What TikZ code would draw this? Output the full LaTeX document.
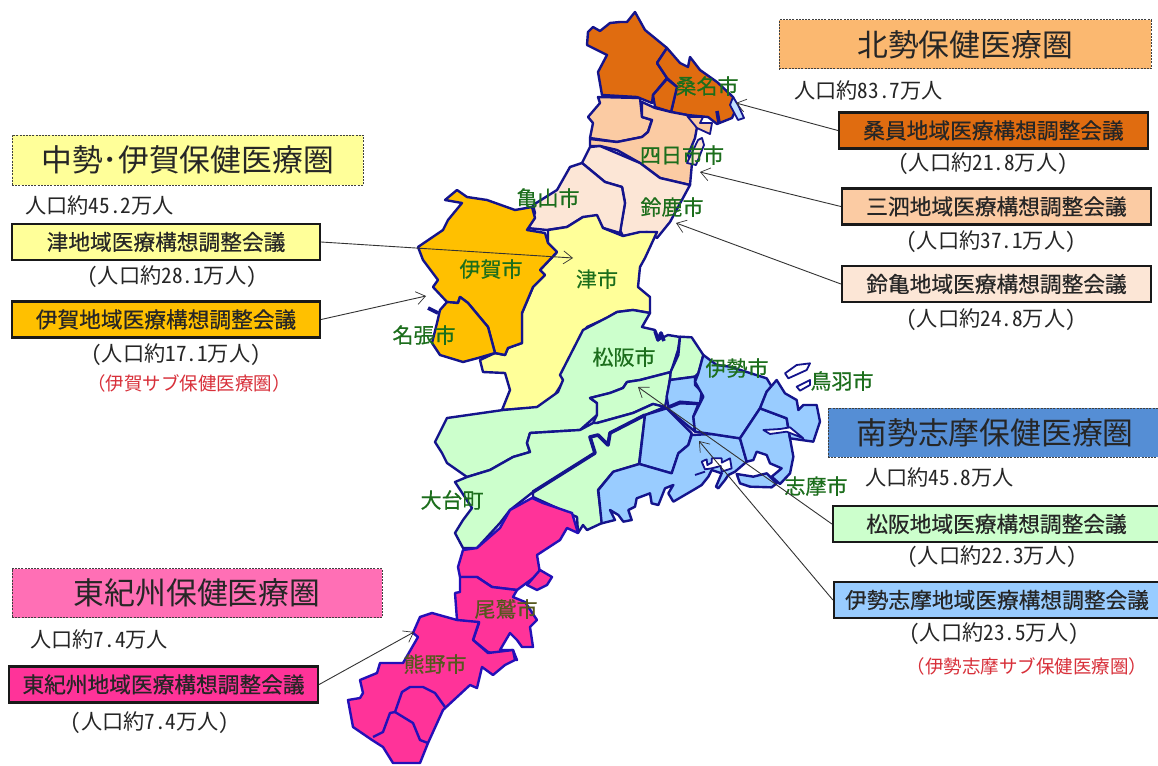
\documentclass[tikz,border=0pt]{standalone}
\usepackage{fontspec}
\usetikzlibrary{arrows.meta}
\newfontfamily\cjk{Noto Sans CJK JP}
\newfontfamily\cjkn[RawFeature=+hwid]{Noto Sans CJK JP}
\newfontfamily\cjkb[FakeBold=0.5]{Noto Sans CJK JP}
\definecolor{maplinec}{HTML}{14148C}
\definecolor{pinkline}{HTML}{2410B8}
\definecolor{darkor}{HTML}{E06C10}
\definecolor{lightor}{HTML}{FBCBA3}
\definecolor{palepk}{HTML}{FCE6D6}
\definecolor{amber}{HTML}{FFC000}
\definecolor{paley}{HTML}{FFFF99}
\definecolor{paleg}{HTML}{CCFFCC}
\definecolor{paleb}{HTML}{99CCFF}
\definecolor{hotp}{HTML}{FF3399}
\definecolor{titleor}{HTML}{FBB870}
\definecolor{titleb}{HTML}{558ED5}
\definecolor{titlep}{HTML}{FF6FB5}
\definecolor{cityg}{HTML}{1C6E1C}
\definecolor{cityo}{HTML}{55581E}
\definecolor{subred}{HTML}{D8303A}
\tikzset{
 region/.style={draw=maplinec,line width=2.4pt,line join=round},
 pregion/.style={draw=pinkline,line width=2.4pt,line join=round},
 thickcoast/.style={draw=maplinec,line width=3.6pt,line join=round},
 isle/.style={draw=maplinec,line width=1.8pt,line join=round,fill=white},
 title/.style={draw=black!75,dash pattern=on 2pt off 1.2pt,line width=1pt,minimum height=49pt,inner sep=0pt,font=\cjk\fontsize{30.8}{34}\selectfont,text=black!85},
 council/.style={draw=black!90,line width=2.2pt,minimum height=36pt,inner sep=0pt,font=\cjkb\fontsize{21.7}{24}\selectfont,text=black!85},
 pop/.style={inner sep=0pt,font=\cjkn\fontsize{21.2}{24}\selectfont,text=black!85},
 sub/.style={inner sep=0pt,font=\cjk\fontsize{18.5}{20}\selectfont,text=subred},
 city/.style={inner sep=0pt,font=\cjkb\fontsize{21}{24}\selectfont,text=cityg},
 cityp/.style={city,text=cityo},
 link/.style={draw=black!80,line width=.9pt,-{Straight Barb[length=9pt,width=13pt,line width=.7pt]}}
}
\begin{document}
\begin{tikzpicture}[x=1pt,y=-1pt]
\useasboundingbox (0,0) rectangle (1158,765);
\clip (0,0) rectangle (1158,765);
\fill[white] (0,0) rectangle (1158,765);
% ---- Hokusei
\filldraw[region,fill=darkor] (635,12)--(645,30)--(667,48)--(657,63)--(667,78)--(653,95)--(652,103)--(637,97)--(602,95)--(598,72)--(607,55)--(587,45)--(588,32)--(593,27)--(600,31)--(610,23)--(620,22)--(627,22)--cycle;
\filldraw[region,fill=darkor] (667,48)--(680,63)--(688,67)--(690,57)--(700,70)--(717,82)--(733,97)--(737,107)--(732,118)--(717,124)--(708,117)--(687,115)--(671,112)--(677,87)--(667,78)--(657,63)--cycle;
\filldraw[region,fill=darkor] (667,79)--(653,95)--(655,107)--(671,112)--(677,87)--cycle;
\draw[thickcoast] (717,111)--(719,123);
\filldraw[isle,fill=paleb!60] (733,97)--(738,105)--(744,118)--(738,120)--(730,105)--cycle;
\filldraw[region,fill=lightor] (598,97)--(640,98)--(642,117)--(652,120)--(648,132)--(642,137)--(617,142)--(590,138)--(593,123)--(588,117)--(600,103)--cycle;
\filldraw[region,fill=lightor] (642,102)--(655,108)--(671,112)--(687,115)--(697,127)--(695,138)--(688,155)--(692,163)--(690,185)--(660,178)--(640,163)--(617,150)--(600,146)--(590,146)--(590,139)--(617,142)--(642,137)--(648,132)--(652,120)--(642,117)--cycle;
\filldraw[isle,fill=lightor] (688,117)--(703,117)--(700,123)--(712,123)--(710,134)--(697,128)--cycle;
\filldraw[isle,fill=palepk] (698,140)--(702,138)--(704,145)--(696,165)--(687,163)--cycle;
% suzuka, kameyama
\filldraw[region,fill=palepk] (590,147)--(600,146)--(640,163)--(660,178)--(690,185)--(670,222)--(657,238)--(647,232)--(623,236)--(620,230)--(625,203)--(622,187)--(605,182)--(582,163)--cycle;
\filldraw[region,fill=palepk] (582,163)--(605,182)--(622,187)--(625,203)--(620,233)--(600,227)--(595,217)--(583,217)--(567,227)--(547,230)--(527,228)--(535,213)--(533,205)--(557,190)--(570,167)--cycle;
% ---- Tsu
\filldraw[region,fill=paley] (548,230)--(567,227)--(583,217)--(597,215)--(603,228)--(623,236)--(640,232)--(657,232)--(645,258)--(640,267)--(638,287)--(650,297)--(650,313)--(633,310)--(617,312)--(607,318)--(587,327)--(563,373)--(563,382)--(547,407)--(502,410)--(510,390)--(505,373)--(483,372)--(480,360)--(495,353)--(505,355)--(508,348)--(522,343)--(522,313)--(533,287)--(545,275)--(540,270)--(557,252)--(548,243)--cycle;
% ---- Iga
\filldraw[region,fill=amber] (418,247)--(443,230)--(448,220)--(462,203)--(445,200)--(457,190)--(467,197)--(487,200)--(515,210)--(532,207)--(535,218)--(527,230)--(545,233)--(548,243)--(557,252)--(540,270)--(545,275)--(533,287)--(522,313)--(522,343)--(508,348)--(505,355)--(495,353)--(488,327)--(468,303)--(460,297)--(458,303)--(447,302)--(433,287)--(438,280)--(423,260)--cycle;
\filldraw[region,fill=amber] (447,302)--(440,310)--(437,323)--(432,343)--(440,355)--(463,362)--(478,358)--(495,353)--(488,327)--(468,303)--(460,297)--(458,303)--cycle;
\draw[thickcoast] (428,308)--(438,313);
% ---- Matsusaka group
\filldraw[region,fill=paleg] (447,418)--(503,410)--(537,407)--(558,392)--(563,380)--(560,375)--(583,330)--(608,317)--(617,312)--(633,310)--(650,313)--(642,327)--(655,330)--(658,340)--(668,335)--(680,337)--(678,350)--(671,372)--(640,380)--(627,382)--(623,388)--(610,393)--(590,398)--(597,403)--(597,415)--(580,430)--(530,433)--(527,443)--(530,452)--(513,457)--(490,470)--(467,477)--(447,463)--(442,453)--(435,442)--cycle;
\filldraw[region,fill=paleg] (590,398)--(610,393)--(623,388)--(627,382)--(640,380)--(671,372)--(667,397)--(665,407)--(653,404)--(633,413)--(597,423)--(593,423)--(597,415)--(597,403)--cycle;
\filldraw[region,fill=paleg] (467,477)--(490,470)--(513,457)--(530,452)--(527,443)--(530,433)--(580,430)--(593,423)--(597,423)--(633,413)--(653,404)--(665,407)--(645,415)--(610,433)--(608,445)--(598,435)--(590,437)--(595,453)--(560,475)--(533,492)--(510,510)--(500,523)--(477,548)--(463,548)--(455,533)--(463,520)--(472,508)--(455,482)--cycle;
\filldraw[region,fill=paleg] (533,492)--(560,475)--(595,453)--(590,437)--(598,435)--(608,445)--(610,433)--(645,415)--(639,464)--(613,472)--(598,490)--(602,523)--(587,530)--(583,525)--(578,533)--(577,517)--(533,497)--cycle;
\draw[thickcoast] (533,492)--(560,475)--(595,453)--(590,437)--(598,435)--(608,445)--(610,433)--(645,415);
\draw[thickcoast] (655,331)--(658,340)--(661,333)--(664,341);
% ---- Nansei-Shima, drawn in the crop's thirds of a pixel
\begin{scope}[shift={(590,330)},x=.33333pt,y=-.33333pt]
\filldraw[region,fill=paleg] (270,20)--(305,22)--(340,75)--(325,130)--(315,140)--(240,150)--(242,125)--(265,75)--cycle;
\filldraw[region,fill=paleb] (240,150)--(315,140)--(315,165)--(335,185)--(330,220)--(270,215)--(235,230)--(230,200)--cycle;
\filldraw[region,fill=paleb] (240,232)--(270,220)--(325,222)--(310,260)--(315,305)--(230,235)--cycle;
\filldraw[region,fill=paleb] (165,255)--(230,235)--(305,310)--(295,345)--(265,370)--(245,430)--(148,402)--cycle;
\filldraw[region,fill=paleb] (148,402)--(245,430)--(265,370)--(295,345)--(305,315)--(365,312)--(450,325)--(470,395)--(435,425)--(415,435)--(405,450)--(385,475)--(378,470)--(395,430)--(365,420)--(355,440)--(335,465)--(310,480)--(250,515)--(235,490)--(250,465)--(225,475)--(205,525)--(185,520)--(180,490)--(140,505)--(135,530)--(115,540)--(125,570)--(100,575)--(85,555)--(60,540)--(75,570)--(35,580)--(25,480)--(70,425)--cycle;
\filldraw[isle] (335,395)--(350,388)--(352,405)--(365,398)--(365,385)--(395,385)--(395,398)--(420,385)--(425,415)--(395,425)--(392,408)--(365,415)--(345,418)--cycle;
\draw[thickcoast,line width=1.8pt] (315,435)--(345,425);
\filldraw[region,fill=paleb] (325,130)--(340,75)--(380,105)--(420,110)--(530,145)--(545,170)--(530,185)--(510,235)--(450,325)--(365,312)--(315,305)--(310,260)--(340,200)--(315,155)--cycle;
\filldraw[region,fill=paleb] (510,235)--(590,265)--(600,325)--(610,380)--(600,430)--(570,462)--(545,440)--(575,415)--(540,400)--(530,375)--(500,365)--(490,390)--(470,395)--(450,325)--cycle;
\filldraw[region,fill=paleb] (440,432)--(490,440)--(530,430)--(560,460)--(545,472)--(480,470)--(450,460)--cycle;
\filldraw[region,fill=paleb] (510,235)--(530,185)--(560,150)--(585,190)--(620,210)--(625,240)--(640,225)--(680,225)--(690,275)--(670,335)--(600,325)--(590,265)--cycle;
\filldraw[isle] (520,300)--(570,297)--(600,292)--(640,325)--(590,305)--(540,312)--cycle;
\filldraw[isle] (585,130)--(620,105)--(660,100)--(650,120)--(595,145)--cycle;
\filldraw[isle] (620,170)--(660,150)--(660,165)--(630,182)--cycle;
\end{scope}
% ---- Higashi-Kishu
\filldraw[pregion,fill=hotp] (532,498)--(543,503)--(572,513)--(578,533)--(567,528)--(560,540)--(537,555)--(540,573)--(517,590)--(492,587)--(477,577)--(460,577)--(458,567)--(463,550)--(477,548)--(500,528)--(510,510)--cycle;
\filldraw[pregion,fill=hotp] (540,570)--(552,577)--(547,585)--(537,590)--(527,585)--cycle;
\filldraw[pregion,fill=hotp] (460,577)--(477,577)--(492,587)--(517,590)--(513,597)--(525,602)--(537,620)--(530,627)--(533,647)--(522,647)--(517,640)--(510,633)--(500,650)--(513,650)--(517,660)--(488,652)--(473,640)--(479,623)--(457,620)--(455,593)--(460,592)--cycle;
\filldraw[pregion,fill=hotp] (420,617)--(432,613)--(457,620)--(479,622)--(473,640)--(488,653)--(513,650)--(515,660)--(505,665)--(493,675)--(482,667)--(477,688)--(470,685)--(443,710)--(428,743)--(420,763)--(393,763)--(383,747)--(372,740)--(353,727)--(348,700)--(360,698)--(363,693)--(360,680)--(377,673)--(380,663)--(403,663)--(418,637)--(413,633)--cycle;
\draw[pregion] (445,707)--(435,693)--(423,687)--(410,687)--(402,692)--(395,712)--(413,723)--(420,740)--(428,743);
\draw[pregion] (395,712)--(390,713)--(383,732)--(373,737);
% ---- city names
\node[city] (cKuwana) at (707,86) {桑名市};
\node[city] (cYokkaichi) at (682,155) {四日市市};
\node[city] (cKameyama) at (548,198) {亀山市};
\node[city] (cSuzuka) at (672,207) {鈴鹿市};
\node[city] (cIga) at (491,269) {伊賀市};
\node[city] (cTsu) at (597,279) {津市};
\node[city] (cNabari) at (424,335) {名張市};
\node[city] (cMatsusaka) at (624,357) {松阪市};
\node[city] (cIse) at (737,368) {伊勢市};
\node[city] (cToba) at (842,381) {鳥羽市};
\node[city] (cShima) at (816,486) {志摩市};
\node[city] (cOdai) at (452,500) {大台町};
\node[cityp] (cOwase) at (506,609) {尾鷲市};
\node[cityp] (cKumano) at (435,664) {熊野市};
% ---- titles
\node[title,fill=titleor,minimum width=372pt] (tHokusei) at (965,44.5) {北勢保健医療圏};
\node[title,fill=paley,minimum width=351pt,minimum height=50pt] (tChusei) at (187.5,160) {中勢･伊賀保健医療圏};
\node[title,fill=titleb,minimum width=334pt] (tNansei) at (995,432.5) {南勢志摩保健医療圏};
\node[title,fill=titlep,minimum width=370pt] (tHigashi) at (197,593) {東紀州保健医療圏};
% ---- councils
\node[council,fill=darkor,minimum width=309pt] (bKuwana) at (993.5,130.5) {桑員地域医療構想調整会議};
\node[council,fill=lightor,minimum width=309pt] (bSansi) at (996.5,206.5) {三泗地域医療構想調整会議};
\node[council,fill=palepk,minimum width=309pt] (bSuzuka) at (996.5,284) {鈴亀地域医療構想調整会議};
\node[council,fill=paley,minimum width=308pt] (bTsu) at (166,242) {津地域医療構想調整会議};
\node[council,fill=amber,minimum width=308pt] (bIga) at (166,319.5) {伊賀地域医療構想調整会議};
\node[council,fill=paleg,minimum width=327pt] (bMatsusaka) at (996.5,524) {松阪地域医療構想調整会議};
\node[council,fill=paleb,minimum width=326pt] (bIseshima) at (997,600) {伊勢志摩地域医療構想調整会議};
\node[council,fill=hotp,minimum width=309pt] (bHigashi) at (163.5,684.5) {東紀州地域医療構想調整会議};
% ---- populations
\node[pop,anchor=west] (pHokusei) at (794,90) {人口約83.7万人};
\node[pop,anchor=west] (pChusei) at (25,205) {人口約45.2万人};
\node[pop,anchor=west] (pNansei) at (865,477) {人口約45.8万人};
\node[pop,anchor=west] (pHigashi) at (30,639) {人口約7.4万人};
\node[pop] (qKuwana) at (983,164) {（人口約21.8万人）};
\node[pop] (qSansi) at (991,242) {（人口約37.1万人）};
\node[pop] (qSuzuka) at (991,320) {（人口約24.8万人）};
\node[pop] (qTsu) at (172,277) {（人口約28.1万人）};
\node[pop] (qIga) at (176,355) {（人口約17.1万人）};
\node[pop] (qMatsusaka) at (992,557) {（人口約22.3万人）};
\node[pop] (qIseshima) at (994,634) {（人口約23.5万人）};
\node[pop] (qHigashi) at (150,723) {（人口約7.4万人）};
\node[sub] (sIga) at (189,383) {（伊賀サブ保健医療圏）};
\node[sub] (sIseshima) at (1027,666) {（伊勢志摩サブ保健医療圏）};
% ---- connectors
\coordinate (eKuwana) at (736,103);
\coordinate (eSansi) at (700,172);
\coordinate (eSuzuka) at (676,223);
\coordinate (eTsu) at (573,258);
\coordinate (eIga) at (426,296);
\coordinate (eMatsusaka) at (638,387);
\coordinate (eIseshima) at (699,441);
\coordinate (eHigashi) at (414,632);
\draw[link] (bKuwana.west) -- (eKuwana);
\draw[link] (bSansi.west) -- (eSansi);
\draw[link] (bSuzuka.west) -- (eSuzuka);
\draw[link] (bTsu.east) -- (eTsu);
\draw[link] (bIga.east) -- (eIga);
\draw[link] (bMatsusaka.west) -- (eMatsusaka);
\draw[link] (bIseshima.west) -- (eIseshima);
\draw[link] (bHigashi.east) -- (eHigashi);
\end{tikzpicture}
\end{document}
